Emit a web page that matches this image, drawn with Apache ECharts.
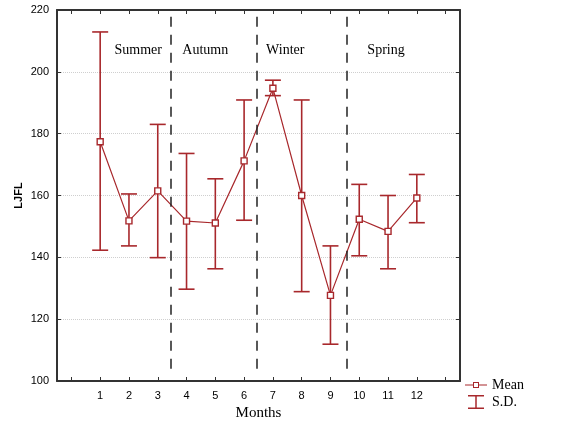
<!DOCTYPE html>
<html><head><meta charset="utf-8">
<script src="https://cdn.jsdelivr.net/npm/echarts@6/dist/echarts.min.js"></script>
<style>html,body{margin:0;padding:0;background:#fff}#c{width:576px;height:428px}</style>
</head><body><div id="c"></div>
<script>
var months = [1,2,3,4,5,6,7,8,9,10,11,12];
var meanValues = [177.4,151.8,161.5,151.7,151.1,171.2,194.7,160.0,127.7,152.3,148.4,159.2];
var sdUpper = [212.9,160.5,183.0,173.6,165.4,190.9,197.3,190.9,143.7,163.6,160.0,166.8];
var sdLower = [142.3,143.7,139.9,129.7,136.3,152.0,192.3,128.9,111.9,140.5,136.3,151.2];
var seasonNames = ['Summer','Autumn','Winter','Spring'];
var seasonX = [2.32,4.65,7.43,10.93];
var seasonY = 207;
var dividerX = [3.45,6.45,9.57];
var yTicks = [100,120,140,160,180,200,220];
var xTickValues = [0,1,2,3,4,5,6,7,8,9,10,11,12,13];

var RED = '#a8282c';
var serif = '"Liberation Serif","DejaVu Serif",serif';
var sans = '"Liberation Sans",Arial,sans-serif';

var chart = echarts.init(document.getElementById('c'));
var meanData = months.map(function(m,i){return [m, meanValues[i]];});
var sdData = months.map(function(m,i){return [m, sdLower[i], sdUpper[i]];});
var seasonData = seasonNames.map(function(n,i){return {value:[seasonX[i], seasonY], name:n};});
var divLines = dividerX.map(function(x){return [{coord:[x,104]},{coord:[x,220]}];});

var axisLine = {show:true, onZero:false, lineStyle:{color:'#333', width:2}};
chart.setOption({
  animation:false,
  grid:{left:57, right:116, top:10, bottom:47},
  legend:{
    orient:'vertical', left:465, top:378, itemGap:3, itemWidth:22, itemHeight:14, padding:0,
    textStyle:{fontFamily:serif, fontSize:14, color:'#000'},
    data:[
      {name:'Mean', icon:'path://M0,6.5h8v1h-8z M14,6.5h8v1h-8z M8,4h6v6h-6z M9,5v4h4v-4z',
        itemStyle:{color:RED, borderWidth:0}},
      {name:'S.D.', icon:'path://M0,0h16v1.5h-16z M7.25,0h1.5v14h-1.5z M0,12.5h16v1.5h-16z',
        itemStyle:{color:RED, borderWidth:0}}
    ]
  },
  xAxis:[{
    type:'value', min:-0.5, max:13.5,
    name:'Months', nameLocation:'middle', nameGap:24,
    nameTextStyle:{fontFamily:serif, fontSize:15, color:'#000'},
    axisLine:axisLine,
    axisTick:{show:true, inside:true, length:4, customValues:xTickValues, lineStyle:{color:'#333'}},
    axisLabel:{customValues:months, fontFamily:sans, fontSize:11, color:'#000', margin:9},
    splitLine:{show:false}
  },{
    type:'value', min:-0.5, max:13.5, position:'top',
    axisLine:axisLine,
    axisTick:{show:true, inside:true, length:4, customValues:xTickValues, lineStyle:{color:'#333'}},
    axisLabel:{show:false}, splitLine:{show:false}
  }],
  yAxis:[{
    type:'value', min:100, max:220, interval:20,
    name:'LJFL', nameLocation:'middle', nameGap:33, nameMoveOverlap:false,
    nameTextStyle:{fontFamily:sans, fontSize:11, color:'#000', fontWeight:'bold'},
    axisLine:axisLine,
    axisTick:{show:true, inside:true, length:4, lineStyle:{color:'#333'}},
    axisLabel:{fontFamily:sans, fontSize:11, color:'#000', margin:8},
    splitLine:{show:true, lineStyle:{color:'#cfcfcf', type:'dotted', width:1}}
  },{
    type:'value', min:100, max:220, interval:20, position:'right',
    axisLine:axisLine,
    axisTick:{show:true, inside:true, length:4, lineStyle:{color:'#333'}},
    axisLabel:{show:false}, splitLine:{show:false}
  }],
  series:[
    {
      name:'dividers', type:'line', data:[], silent:true,
      markLine:{symbol:['none','none'], silent:true, label:{show:false},
        lineStyle:{color:'#222', type:[10,8], width:1.5}, data:divLines}
    },
    {
      name:'seasons', type:'scatter', data:seasonData, symbolSize:0, silent:true,
      itemStyle:{opacity:1},
      label:{show:true, position:'inside', formatter:'{b}', fontFamily:serif, fontSize:14, color:'#000', opacity:1}
    },
    {
      name:'S.D.', type:'custom', data:sdData, z:3,
      itemStyle:{color:RED},
      renderItem:function(params, api){
        var x = api.value(0);
        var lo = api.coord([x, api.value(1)]);
        var hi = api.coord([x, api.value(2)]);
        var w = 8;
        var st = {stroke:RED, lineWidth:1.6};
        return {type:'group', children:[
          {type:'line', shape:{x1:lo[0], y1:lo[1], x2:hi[0], y2:hi[1]}, style:st},
          {type:'line', shape:{x1:lo[0]-w, y1:lo[1], x2:lo[0]+w, y2:lo[1]}, style:st},
          {type:'line', shape:{x1:hi[0]-w, y1:hi[1], x2:hi[0]+w, y2:hi[1]}, style:st}
        ]};
      }
    },
    {
      name:'Mean', type:'line', data:meanData, z:4,
      symbol:'rect', symbolSize:6, showAllSymbol:true,
      lineStyle:{color:RED, width:1.2},
      itemStyle:{color:'#fff', borderColor:RED, borderWidth:1.4}
    }
  ]
});
</script></body></html>
